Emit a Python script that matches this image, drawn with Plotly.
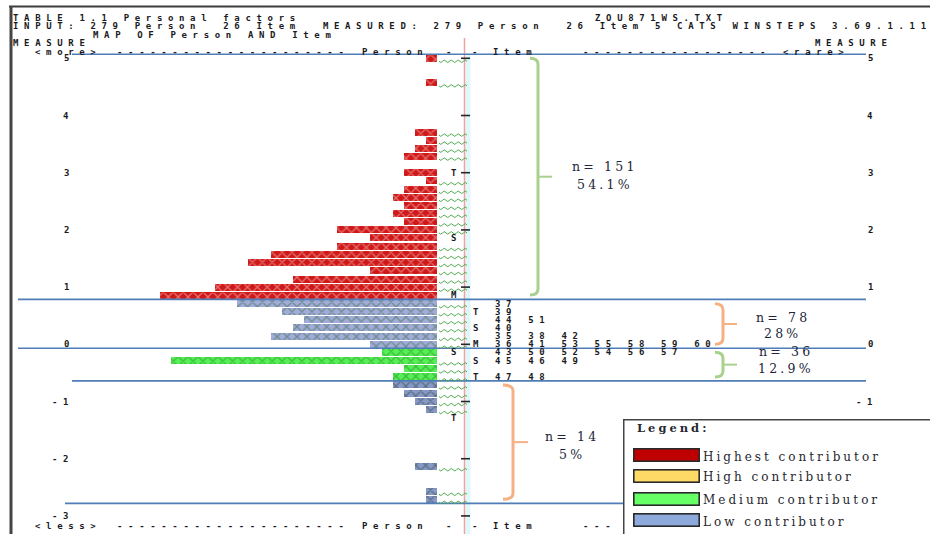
import plotly.graph_objects as go

# ---------------- data ----------------
# person rows of the Wright map: measure (logits) and number of persons on the row
highest_measure = [5.00, 4.57, 3.71, 3.57, 3.43, 3.29, 3.00, 2.86, 2.71, 2.57, 2.43,
                   2.29, 2.14, 2.00, 1.86, 1.71, 1.57, 1.43, 1.29, 1.14, 1.00, 0.86]
highest_count = [1, 1, 2, 1, 2, 3, 3, 1, 3, 4, 3, 4, 3, 9, 6, 9, 15, 17, 6, 13, 20, 25]

upper_low_measure = [0.71, 0.57, 0.43, 0.29, 0.14, 0.00]
upper_low_count = [18, 14, 12, 13, 15, 6]

medium_measure = [-0.14, -0.29, -0.43, -0.57]
medium_count = [5, 24, 3, 4]

lower_low_measure = [-0.71, -0.86, -1.00, -1.14, -2.14, -2.57, -2.71]
lower_low_count = [4, 3, 2, 1, 2, 1, 1]

total_persons = 279

# item side of the map
item_measure = [0.71, 0.57, 0.43, 0.29, 0.14, 0.00, -0.14, -0.29, -0.57]
item_labels = ["37", "39", "44 51", "40", "35 38 42", "36 41 53 55 58 59 60",
               "43 50 52 54 56 57", "45 46 49", "47 48"]

person_marker_measure = [3.00, 1.86, 0.86, -0.14, -1.29]
person_marker_label = ["T", "S", "M", "S", "T"]
item_marker_measure = [0.57, 0.29, 0.00, -0.29, -0.57]
item_marker_label = ["T", "S", "M", "S", "T"]

tick_values = [5, 4, 3, 2, 1, 0, -1, -2, -3]
tick_labels = ["5", "4", "3", "2", "1", "0", "-1", "-2", "-3"]

legend_labels = ["Highest contributor", "High contributor", "Medium contributor", "Low contributor"]

# ---------------- geometry / style ----------------
W, H = 930, 534
Y_TOP, Y_BOT = 6.019, -3.316            # measure range spanned by the canvas height
PX = H / (Y_TOP - Y_BOT)                # pixels per logit
ROW = 1 / 7                             # one text row of the map
X_PER_PERSON = 11.1                     # width of one "X"
BAR_END = 437                           # right end of the person bars (px)

MONO_SIZE = 9
CELL = 11.07
MONO_LS = CELL - 0.602 * MONO_SIZE
INK = "#1a1a22"
SERIF = "DejaVu Serif"

LEGEND_X, LEGEND_Y = 623, 419           # top-left corner of the legend panel (px)

bands = [
    (highest_measure, highest_count, "#D01818", "#F6C3C3"),
    (upper_low_measure, upper_low_count, "#A3ABDB", "#35703A"),
    (medium_measure, medium_count, "#55F055", "#268226"),
    (lower_low_measure, lower_low_count, "#8797C6", "#2F4C44"),
]
legend_colors = ["#C00000", "#FFD966", "#66FF66", "#8EA9DB"]

fig = go.Figure()

for meas, cnt, bg, fg in bands:
    fig.add_trace(go.Bar(
        x=cnt, y=meas, orientation="h", width=0.12,
        marker=dict(color=bg, line=dict(width=0),
                    pattern=dict(shape="x", fgcolor=fg, bgcolor=bg, size=7, solidity=0.35)),
        showlegend=False, hovertemplate="measure %{y}<br>persons %{x}<extra></extra>"))

# helper axes in pixel units for page furniture
fig.add_trace(go.Scatter(x=[None], y=[None], xaxis="x2", yaxis="y2", showlegend=False, hoverinfo="skip"))


def mono(s, ls=MONO_LS):
    def esc(t):
        return t.replace("<", "&lt;").replace(">", "&gt;").replace(" ", "\u00a0")
    if len(s) == 1:
        return esc(s)
    return '<span style="letter-spacing:%.2fpx">%s</span>%s' % (ls, esc(s[:-1]), esc(s[-1]))


def note(x, y, text, xref="x2", yref="y2", xanchor="left", size=MONO_SIZE,
         family="DejaVu Sans Mono", color=INK, weight="bold", yshift=0):
    fig.add_annotation(x=x, y=y, xref=xref, yref=yref, text=text, showarrow=False,
                       xanchor=xanchor, yanchor="middle", borderpad=0, borderwidth=0,
                       yshift=yshift,
                       font=dict(family=family, size=size, color=color, weight=weight))


def line(x0, y0, x1, y1, color, width, xref="x2", yref="y2", layer="above"):
    fig.add_shape(type="line", x0=x0, y0=y0, x1=x1, y1=y1, xref=xref, yref=yref,
                  line=dict(color=color, width=width), layer=layer)


# page frame
line(9, 6.5, W + 2, 6.5, "#3c3c3c", 2)
line(11, 6, 11, H + 2, "#444444", 3)

# header block
note(13, 18.3, mono("TABLE 1.1 Personal factors"))
note(595, 18.3, mono("ZOU871WS.TXT"))
note(13, 26.3, mono("INPUT: 279 Person  26 Item  MEASURED: 279 Person  26 Item 5 CATS WINSTEPS 3.69.1.11"))
note(93, 34.5, mono("MAP OF Person AND Item"))
note(13, 42.7, mono("MEASURE"))
note(815, 42.7, mono("MEASURE"))

# ruler lines above and below the map
note(35, 51.5, mono("<more>"))
note(117, 51.5, mono("-" * 21))
note(362, 51.5, mono("Person"))
note(446, 51.5, mono("-"))
note(472, 51.5, mono("-"))
note(493, 51.5, mono("Item"))
note(583, 51.5, mono("-" * 17))
note(783, 51.5, mono("<rare>"))

note(35, 525.5, mono("<less>"))
note(117, 525.5, mono("-" * 21))
note(362, 525.5, mono("Person"))
note(446, 525.5, mono("-"))
note(472, 525.5, mono("-"))
note(493, 525.5, mono("Item"))
note(583, 525.5, mono("---"))

# item column: "|" rule
fig.add_shape(type="rect", x0=465.5, x1=470.5, y0=55, y1=H + 2, xref="x2", yref="y2",
              fillcolor="#DDF9FC", line=dict(width=0), layer="below")
line(464.5, 38, 464.5, H + 2, "#F3A0A0", 1.5, layer="below")

# integer ticks on the item column and measure labels (right-hand ones stop at the legend)
for v, lab in zip(tick_values, tick_labels):
    line(461, v, 470, v, "#26262e", 1.6, yref="y")
    note(69, v, mono(lab), yref="y", xanchor="right")
    if (Y_TOP - v) * PX < LEGEND_Y:
        note(873, v, mono(lab), yref="y", xanchor="right")

# groups: data, brace colour, brace x, hook, tick, text x, text offsets
groups = [
    (highest_measure, highest_count, "#A9D18E", 538, 8, 14, 603, 10, -8),
    (upper_low_measure, upper_low_count, "#F4B183", 723, 8, 14, 781, 7, -9),
    (medium_measure, medium_count, "#A9D18E", 723, 8, 14, 784, 13, -4),
    (lower_low_measure, lower_low_count, "#F4B183", 513, 10, 15, 570, 6, -12),
]

# group separators
edges = [highest_measure[0] + ROW / 2]
for (m_a, *_), (m_b, *_) in zip(groups[:-1], groups[1:]):
    edges.append((m_a[-1] + m_b[0]) / 2)
edges.append(lower_low_measure[-1] - ROW / 2)
edge_x0 = [72, 18, 18, 72, 65]
for e, x0 in zip(edges, edge_x0):
    line(x0, e, 866, e, "#4F7DB8", 1.6, yref="y")

# spell-check style squiggles between the person bars and the item column
marker_rows = set(round(m, 2) for m in person_marker_measure)
for meas, cnt, *_ in bands:
    for m in meas:
        if round(m, 2) in marker_rows:
            continue
        x = BAR_END + 2
        path = "M%.1f,-3 Q%.1f,-5.5 %.1f,-3" % (x, x + 1.75, x + 3.5)
        x += 3.5
        while x < 465:
            x += 3.5
            path += " T%.1f,-3" % x
        fig.add_shape(type="path", path=path, xref="x2", yref="y", ysizemode="pixel",
                      yanchor=m, line=dict(color="#4DAA4D", width=1), layer="above")

# person / item distribution markers and item numbers
for m, lab in zip(person_marker_measure, person_marker_label):
    note(451, m, mono(lab), yref="y")
for m, lab in zip(item_marker_measure, item_marker_label):
    note(473, m, mono(lab), yref="y")
for m, lab in zip(item_measure, item_labels):
    note(495, m, mono(lab), yref="y")

# braces with group size and share
for meas, cnt, color, xv, hook, tick, tx, dn, dp in groups:
    top, bot = meas[0], meas[-1]
    d = 6 / PX
    path = ("M%.1f,%.4f Q%.1f,%.4f %.1f,%.4f L%.1f,%.4f Q%.1f,%.4f %.1f,%.4f"
            % (xv - hook, top, xv, top, xv, top - d, xv, bot + d, xv, bot, xv - hook, bot))
    fig.add_shape(type="path", path=path, xref="x2", yref="y",
                  line=dict(color=color, width=3), layer="above")
    mid = (top + bot) / 2
    line(xv, mid, xv + tick, mid, color, 2, yref="y")
    n = sum(cnt)
    pct = "%.1f" % (100 * n / total_persons)
    if pct.endswith(".0"):
        pct = pct[:-2]
    note(tx, mid, mono("n= %d" % n, 3.2), yref="y", xanchor="center", size=12.5,
         family=SERIF, color="#23263a", weight="normal", yshift=dn)
    note(tx, mid, mono(pct + "%", 3.2), yref="y", xanchor="center", size=12.5,
         family=SERIF, color="#23263a", weight="normal", yshift=dp)

# legend panel
fig.add_annotation(x=LEGEND_X, y=LEGEND_Y, xref="x2", yref="y2", xanchor="left", yanchor="top",
                   text=" ", showarrow=False, width=312, height=120, bgcolor="white",
                   bordercolor="#444444", borderwidth=1.5, borderpad=0)
note(637, 427.5, mono("Legend:", 3), size=11.5, family=SERIF, color="#26262e", weight="bold")
for i, (lab, col) in enumerate(zip(legend_labels, legend_colors)):
    yc = [455, 475.7, 498.5, 520][i]
    fig.add_annotation(x=633, y=yc, xref="x2", yref="y2", xanchor="left", yanchor="middle",
                       text=" ", showarrow=False, width=64, height=11, bgcolor=col,
                       bordercolor="#2a2a2a", borderwidth=1.6, borderpad=0)
    note(703, yc + 1.5, mono(lab, 3), size=12, family=SERIF, color="#26262e", weight="normal")

fig.update_layout(
    width=W, height=H, margin=dict(l=0, r=0, t=0, b=0, pad=0),
    paper_bgcolor="white", plot_bgcolor="white", bargap=0, showlegend=False,
    xaxis=dict(range=[BAR_END / X_PER_PERSON, -(W - BAR_END) / X_PER_PERSON],
               visible=False, fixedrange=True),
    yaxis=dict(range=[Y_BOT, Y_TOP], visible=False, fixedrange=True),
    xaxis2=dict(range=[0, W], overlaying="x", anchor="y2", visible=False, fixedrange=True),
    yaxis2=dict(range=[H, 0], overlaying="y", anchor="x2", visible=False, fixedrange=True),
)

fig.write_html("out.html")
